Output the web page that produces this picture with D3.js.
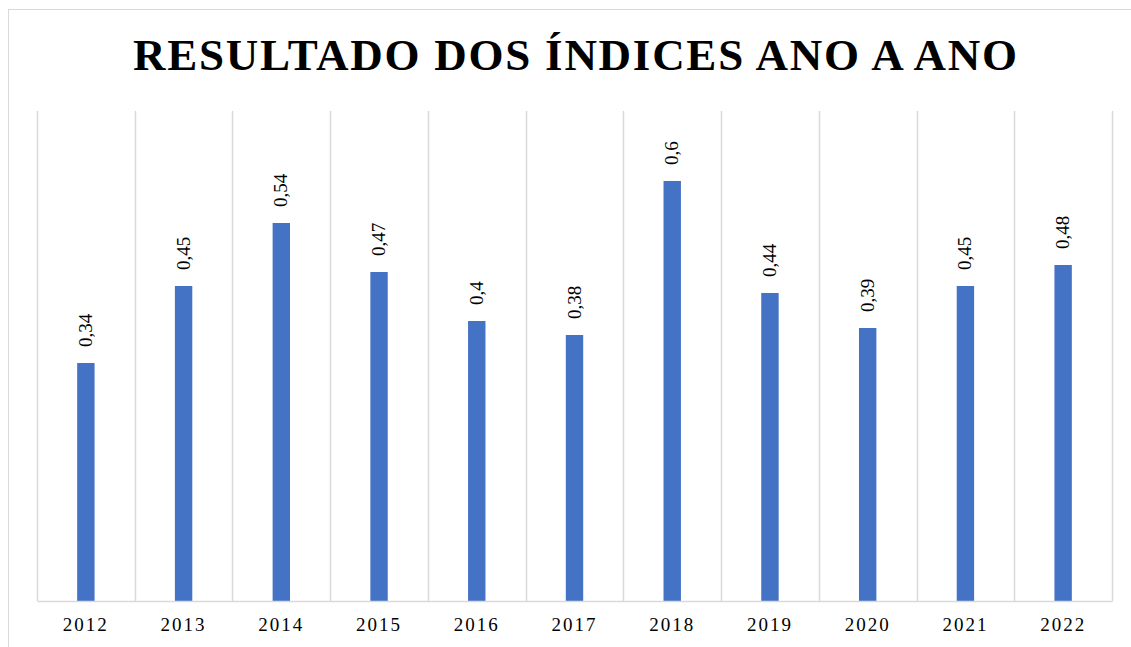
<!DOCTYPE html>
<html>
<head>
<meta charset="utf-8">
<script src="https://cdn.jsdelivr.net/npm/d3@7"></script>
<style>
    body { margin: 0; background: #fff; }
    svg { display: block; }
    svg text { font-family: 'Liberation Serif', 'Times New Roman', serif; }
</style>
</head>
<body>
<div class="svg-wrap"><svg></svg></div>
<script>
var years = ["2012", "2013", "2014", "2015", "2016", "2017", "2018", "2019", "2020", "2021", "2022"];
var values = [0.34, 0.45, 0.54, 0.47, 0.40, 0.38, 0.60, 0.44, 0.39, 0.45, 0.48];
var labels = ["0,34", "0,45", "0,54", "0,47", "0,4", "0,38", "0,6", "0,44", "0,39", "0,45", "0,48"];
var title = "RESULTADO DOS ÍNDICES ANO A ANO";

var width = 1131;
var height = 647;
var margin = { left: 37, right: 19, top: 111, bottom: 46 };
var serif = "'Liberation Serif', 'Times New Roman', serif";

var svg = d3.select(".svg-wrap > svg")
    .attr("width", width)
    .attr("height", height);

// chart border
svg.append("rect")
    .attr("x", 8.5).attr("y", 9.5)
    .attr("width", 1130).attr("height", 660)
    .attr("fill", "none")
    .attr("stroke", "#d9d9d9");

svg.append("text")
    .attr("x", 575).attr("y", 70)
    .attr("text-anchor", "middle")
    .style("font-family", serif)
    .attr("font-weight", "bold")
    .attr("font-size", 45)
    .attr("textLength", 884)
    .attr("lengthAdjust", "spacing")
    .attr("fill", "#000")
    .text(title);

var x = d3.scaleBand()
    .domain(years)
    .range([margin.left, width - margin.right])
    .paddingInner(0).paddingOuter(0);

var y = d3.scaleLinear()
    .domain([0, 0.7])
    .range([height - margin.bottom, margin.top]);

// vertical category gridlines
var grid = svg.append("g").attr("class", "grid");
var edges = years.map(function (d) { return x(d); }).concat([x.range()[1]]);
grid.selectAll("line")
    .data(edges).enter().append("line")
    .attr("x1", function (d) { return Math.round(d) + 0.5; })
    .attr("x2", function (d) { return Math.round(d) + 0.5; })
    .attr("y1", y(0.7))
    .attr("y2", y(0))
    .attr("stroke", "#d9d9d9")
    .attr("stroke-width", 1.5);

var barWidth = 17.4;
svg.append("g").attr("class", "bars")
    .selectAll("rect")
    .data(values).enter().append("rect")
    .attr("x", function (d, i) { return x(years[i]) + x.bandwidth() / 2 - barWidth / 2; })
    .attr("y", function (d) { return y(d); })
    .attr("width", barWidth)
    .attr("height", function (d) { return y(0) - y(d); })
    .attr("fill", "#4472c4");

// x axis
var xAxis = svg.append("g")
    .attr("transform", "translate(0," + y(0) + ")")
    .call(d3.axisBottom(x).tickSize(0).tickPadding(17));
xAxis.attr("font-family", null);
xAxis.select(".domain").attr("stroke", "#d9d9d9").attr("stroke-width", 1.5);
xAxis.selectAll("text")
    .style("font-family", serif)
    .attr("font-size", 19)
    .attr("letter-spacing", 2)
    .attr("fill", "#000");

// value labels
svg.append("g").attr("class", "labels")
    .selectAll("text")
    .data(values).enter().append("text")
    .attr("transform", function (d, i) {
        var cx = x(years[i]) + x.bandwidth() / 2 + 6;
        return "translate(" + cx + "," + (y(d) - 16) + ") rotate(-90)";
    })
    .style("font-family", serif)
    .attr("font-size", 19)
    .attr("fill", "#000")
    .text(function (d, i) { return labels[i]; });
</script>
</body>
</html>
